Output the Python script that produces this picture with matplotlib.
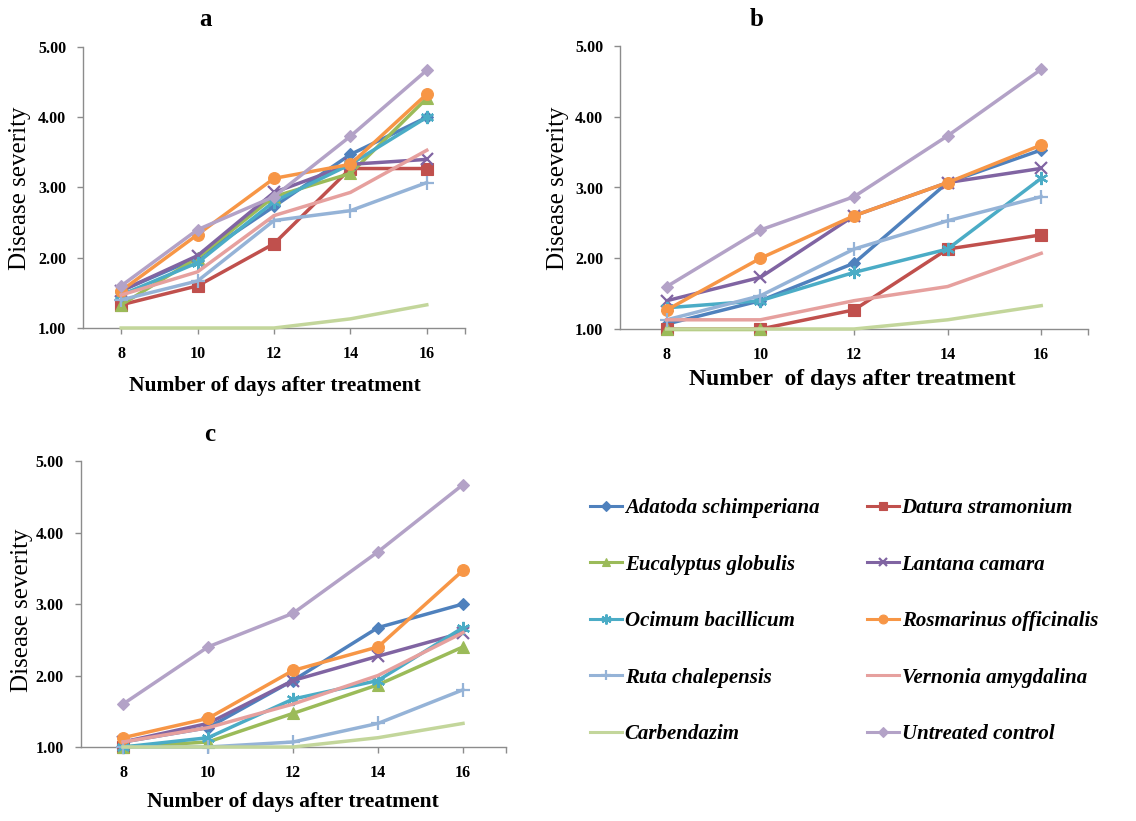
import numpy as np
import matplotlib
matplotlib.use("Agg")
import matplotlib.pyplot as plt
from matplotlib.lines import Line2D

plt.rcParams['font.family'] = ['Liberation Serif', 'DejaVu Serif']

days = [8, 10, 12, 14, 16]
series_names = ["Adatoda schimperiana", "Datura stramonium", "Eucalyptus globulis",
                "Lantana camara", "Ocimum bacillicum", "Rosmarinus officinalis",
                "Ruta chalepensis", "Vernonia amygdalina", "Carbendazim", "Untreated control"]
nan = np.nan

# Panel a
a_adatoda = [1.53, 2.00, 2.73, 3.47, 4.00]
a_datura = [1.33, 1.60, 2.20, 3.27, 3.27]
a_eucalyptus = [1.33, 2.00, 2.87, 3.20, 4.27]
a_lantana = [1.53, 2.03, 2.93, 3.33, 3.40]
a_ocimum = [1.47, 1.93, 2.80, 3.33, 4.00]
a_rosmarinus = [1.53, 2.33, 3.13, 3.33, 4.33]
a_ruta = [1.40, 1.67, 2.53, 2.67, 3.07]
a_vernonia = [1.47, 1.80, 2.60, 2.93, 3.53]
a_carbendazim = [1.00, 1.00, 1.00, 1.13, 1.33]
a_control = [1.60, 2.40, 2.87, 3.73, 4.67]

# Panel b
b_adatoda = [1.07, 1.40, 1.93, 3.07, 3.53]
b_datura = [1.00, 1.00, 1.27, 2.13, 2.33]
b_eucalyptus = [1.00, 1.00, nan, nan, nan]
b_lantana = [1.40, 1.73, 2.60, 3.07, 3.27]
b_ocimum = [1.30, 1.40, 1.80, 2.13, 3.13]
b_rosmarinus = [1.27, 2.00, 2.60, 3.07, 3.60]
b_ruta = [1.13, 1.47, 2.13, 2.53, 2.87]
b_vernonia = [1.13, 1.13, 1.40, 1.60, 2.07]
b_carbendazim = [1.00, 1.00, 1.00, 1.13, 1.33]
b_control = [1.60, 2.40, 2.87, 3.73, 4.67]

# Panel c
c_adatoda = [1.07, 1.27, 1.93, 2.67, 3.00]
c_datura = [1.00, nan, nan, nan, nan]
c_eucalyptus = [1.00, 1.07, 1.47, 1.87, 2.40]
c_lantana = [1.07, 1.33, 1.93, 2.27, 2.60]
c_ocimum = [1.00, 1.13, 1.67, 1.93, 2.67]
c_rosmarinus = [1.13, 1.40, 2.07, 2.40, 3.47]
c_ruta = [1.00, 1.00, 1.07, 1.33, 1.80]
c_vernonia = [1.07, 1.27, 1.60, 2.00, 2.60]
c_carbendazim = [1.00, 1.00, 1.00, 1.13, 1.33]
c_control = [1.60, 2.40, 2.87, 3.73, 4.67]

panels = {
    'a': [a_adatoda, a_datura, a_eucalyptus, a_lantana, a_ocimum, a_rosmarinus,
          a_ruta, a_vernonia, a_carbendazim, a_control],
    'b': [b_adatoda, b_datura, b_eucalyptus, b_lantana, b_ocimum, b_rosmarinus,
          b_ruta, b_vernonia, b_carbendazim, b_control],
    'c': [c_adatoda, c_datura, c_eucalyptus, c_lantana, c_ocimum, c_rosmarinus,
          c_ruta, c_vernonia, c_carbendazim, c_control],
}

colors = ['#4F81BD', '#C0504D', '#9BBB59', '#8064A2', '#4BACC6', '#F79646',
          '#95B3D7', '#E6A09E', '#C3D69B', '#B3A2C7']
markers = ['D', 's', '^', 'x', (6, 2, 0), 'o', '+', None, None, 'D']
msizes = [6.5, 8, 8, 8.5, 9.5, 8.5, 9.5, 0, 0, 6.5]

W, H = 1136, 821
fig = plt.figure(figsize=(W / 100, H / 100), dpi=100)


def px_axes(l, r, t, b):
    return fig.add_axes([l / W, 1 - b / H, (r - l) / W, (b - t) / H])


axes_px = {
    'a': (83, 465, 47, 328),
    'b': (620, 1088, 46, 329),
    'c': (80.5, 505.5, 461, 747),
}
xlabel_txt = {'a': "Number of days after treatment",
              'b': "Number  of days after treatment",
              'c': "Number of days after treatment"}
xlabel_pos = {'a': (275, 386), 'b': (852, 380), 'c': (293, 802)}
xlabel_fs = {'a': 15.5, 'b': 17, 'c': 15.5}
ylabel_pos = {'a': (20, 188), 'b': (558, 188), 'c': (22, 610)}
title_pos = {'a': (205, 20), 'b': (757, 20), 'c': (210, 434)}

handles = []
for key, data in panels.items():
    ax = px_axes(*axes_px[key])
    for i, vals in enumerate(data):
        ln, = ax.plot(days, vals, color=colors[i], lw=2.5,
                      marker=markers[i] if markers[i] is not None else None,
                      ms=msizes[i], mew=1.6 if markers[i] in ('x', '+', (6, 2, 0)) else 0.8,
                      mec=colors[i], mfc=colors[i], label=series_names[i],
                      clip_on=False, zorder=3 + i)
        if key == 'a':
            handles.append(ln)
    ax.set_xlim(7, 17)
    ax.set_ylim(1, 5)
    ax.set_xticks(days)
    ax.set_xticks([17], minor=True)
    ax.set_yticks([1, 2, 3, 4, 5])
    ax.set_yticklabels([f"{v:.2f}" for v in [1, 2, 3, 4, 5]])
    for s in ('top', 'right'):
        ax.spines[s].set_visible(False)
    for s in ('left', 'bottom'):
        ax.spines[s].set_color('#8C8C8C')
        ax.spines[s].set_linewidth(1.0)
    ax.tick_params(axis='both', which='both', direction='out', length=4,
                   width=1.0, color='#8C8C8C')
    ax.tick_params(axis='y', pad=8)
    ax.tick_params(axis='x', pad=9)
    for lab in ax.get_xticklabels() + ax.get_yticklabels():
        lab.set_fontweight('bold')
        lab.set_fontsize(11.5)
    fig.text(xlabel_pos[key][0] / W, 1 - xlabel_pos[key][1] / H, xlabel_txt[key],
             ha='center', va='center', fontsize=xlabel_fs[key], fontweight='bold')
    fig.text(ylabel_pos[key][0] / W, 1 - ylabel_pos[key][1] / H, "Disease severity",
             ha='center', va='center', rotation=90, fontsize=18)
    fig.text(title_pos[key][0] / W, 1 - title_pos[key][1] / H, key,
             ha='center', va='center', fontsize=18, fontweight='bold')

# legend (row-wise order in two columns)
order = [0, 2, 4, 6, 8, 1, 3, 5, 7, 9]
leg_handles = []
for i in order:
    h = handles[i]
    leg_handles.append(Line2D([], [], color=h.get_color(), lw=2.2,
                              marker=h.get_marker(), ms=h.get_markersize() * 0.75,
                              mew=h.get_markeredgewidth(), mec=h.get_color(),
                              mfc=h.get_color(), label=h.get_label()))
leg = fig.legend(handles=leg_handles, ncol=2, loc='upper left',
                 bbox_to_anchor=(582 / W, 1 - 490 / H), frameon=False,
                 prop={'family': 'Liberation Serif', 'weight': 'bold',
                       'style': 'italic', 'size': 15},
                 handlelength=1.5, handletextpad=0.15, labelspacing=1.75,
                 columnspacing=2.3, borderaxespad=0)

fig.savefig("out.png", dpi=100)
